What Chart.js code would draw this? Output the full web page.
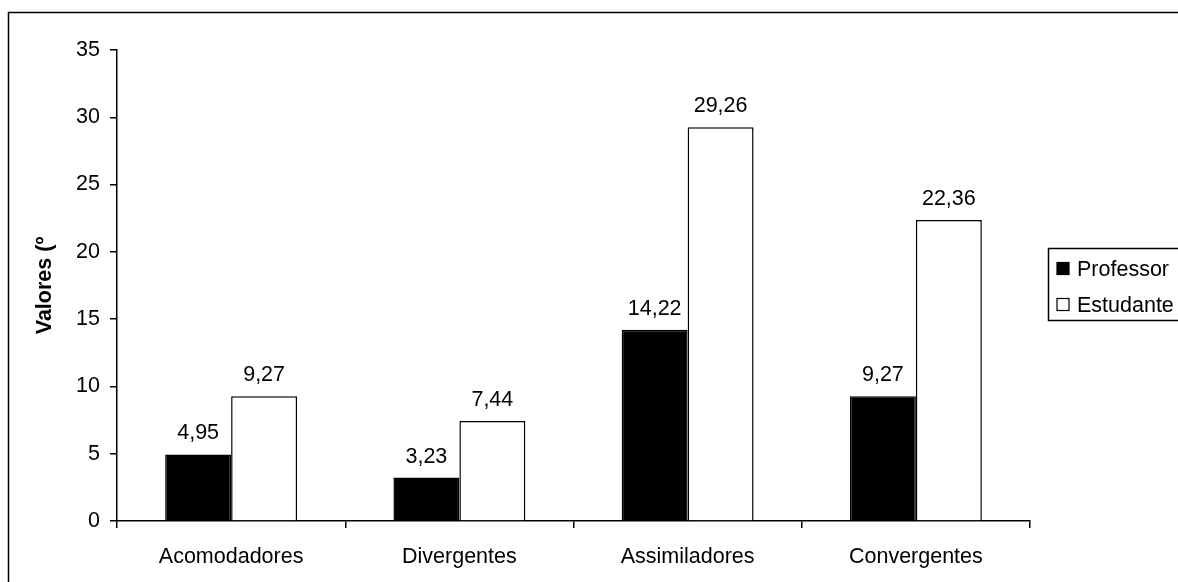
<!DOCTYPE html>
<html>
<head>
<meta charset="utf-8">
<script src="https://cdn.jsdelivr.net/npm/chart.js@4/dist/chart.umd.min.js"></script>
<style>
  html, body { margin: 0; padding: 0; background: #fff; }
  #wrap { width: 1178px; height: 582px; }
</style>
</head>
<body>
<div id="wrap"><canvas id="c" width="1178" height="582"></canvas></div>
<script>
// Learning-style profiles, in percent
const categories = ['Acomodadores', 'Divergentes', 'Assimiladores', 'Convergentes'];
const professorValues = [4.95, 3.23, 14.22, 9.27];
const estudanteValues = [9.27, 7.44, 29.26, 22.36];
const seriesNames = ['Professor', 'Estudante'];
const yTicks = [0, 5, 10, 15, 20, 25, 30, 35];
const yTitle = 'Valores (º';

const FONT = 'Liberation Sans, Arial, sans-serif';
const FSIZE = 21.5;

const fmt = v => v.toFixed(2).replace('.', ',');

// white page with the frame around the chart
const framePlugin = {
  id: 'frame',
  beforeDraw(chart) {
    const ctx = chart.ctx;
    ctx.save();
    ctx.fillStyle = '#fff';
    ctx.fillRect(0, 0, chart.width, chart.height);
    ctx.strokeStyle = '#000';
    ctx.lineWidth = 1.5;
    ctx.strokeRect(8.5, 12.5, 1400, 1000);
    ctx.restore();
  }
};

// value labels above every bar
const valueLabels = {
  id: 'valueLabels',
  afterDatasetsDraw(chart) {
    const ctx = chart.ctx;
    ctx.save();
    ctx.font = FSIZE + 'px ' + FONT;
    ctx.fillStyle = '#000';
    ctx.textAlign = 'center';
    ctx.textBaseline = 'alphabetic';
    chart.data.datasets.forEach((ds, i) => {
      chart.getDatasetMeta(i).data.forEach((bar, j) => {
        ctx.fillText(fmt(ds.data[j]), bar.x, bar.y - 15);
      });
    });
    ctx.restore();
  }
};

// boxed legend on the right
const boxLegend = {
  id: 'boxLegend',
  afterDraw(chart) {
    const ctx = chart.ctx;
    const area = chart.chartArea;
    const left = area.right + 18.5;
    const top = 248.5;
    ctx.save();
    ctx.strokeStyle = '#000';
    ctx.lineWidth = 1.5;
    ctx.strokeRect(left, top, 200, 72);
    ctx.font = FSIZE + 'px ' + FONT;
    ctx.textAlign = 'left';
    ctx.textBaseline = 'alphabetic';
    chart.data.datasets.forEach((ds, i) => {
      const base = top + 27 + i * 36;
      ctx.fillStyle = ds.backgroundColor;
      ctx.fillRect(left + 8.5, base - 13, 12, 12);
      ctx.lineWidth = 1.2;
      ctx.strokeStyle = '#000';
      ctx.strokeRect(left + 8.5, base - 13, 12, 12);
      ctx.fillStyle = '#000';
      ctx.fillText(ds.label, left + 28.5, base);
    });
    ctx.restore();
  }
};

new Chart(document.getElementById('c'), {
  type: 'bar',
  data: {
    labels: categories,
    datasets: [
      { label: seriesNames[0], data: professorValues, backgroundColor: '#000', borderColor: '#000', borderWidth: 1.5 },
      { label: seriesNames[1], data: estudanteValues, backgroundColor: '#fff', borderColor: '#000', borderWidth: 1.5 }
    ]
  },
  options: {
    responsive: false,
    animation: false,
    devicePixelRatio: 1,
    layout: { padding: { left: 32, right: 148, top: 50, bottom: 0 } },
    datasets: { bar: { categoryPercentage: 0.578, barPercentage: 1 } },
    plugins: { legend: { display: false }, tooltip: { enabled: false } },
    scales: {
      x: {
        afterFit(s) { s.height = 61; },
        grid: { display: true, drawOnChartArea: false, drawTicks: true, tickLength: 7, color: '#000', lineWidth: 1.5, offset: true },
        border: { display: true, color: '#000', width: 1.5 },
        ticks: { color: '#000', font: { family: FONT, size: FSIZE }, padding: 16, maxRotation: 0 }
      },
      y: {
        min: 0, max: 35,
        afterFit(s) { s.width = 85; },
        afterBuildTicks(s) { s.ticks = yTicks.map(v => ({ value: v })); },
        grid: { display: true, drawOnChartArea: false, drawTicks: true, tickLength: 7, color: '#000', lineWidth: 1.5 },
        border: { display: true, color: '#000', width: 1.5 },
        ticks: { color: '#000', font: { family: FONT, size: FSIZE }, padding: 10 },
        title: { display: true, text: yTitle, color: '#000', font: { family: FONT, size: FSIZE, weight: 'bold' }, padding: { top: 0, bottom: 0 } }
      }
    }
  },
  plugins: [framePlugin, valueLabels, boxLegend]
});
</script>
</body>
</html>
